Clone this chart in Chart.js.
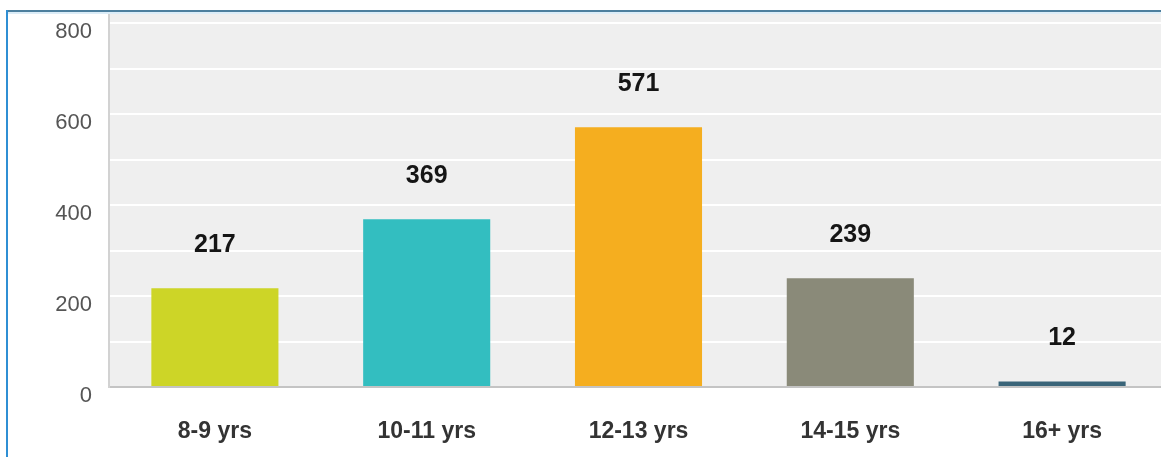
<!DOCTYPE html>
<html>
<head>
<meta charset="utf-8">
<script src="https://cdn.jsdelivr.net/npm/chart.js@4"></script>
<style>
  html, body { margin: 0; padding: 0; background: #fff; overflow: hidden; width: 1161px; height: 457px; }
  #wrap { position: absolute; left: 0; top: 0; width: 1172px; height: 457px; }
  .bl { position: absolute; left: 6px; top: 10px; width: 2px; height: 447px; background: #2f8fd4; }
  .bt { position: absolute; left: 6px; top: 10px; width: 1155px; height: 2px; background: #4d7f9e; }
  .bt2 { position: absolute; left: 8px; top: 12px; width: 1153px; height: 2px; background: #dcedf8; }
</style>
</head>
<body>
<div id="wrap"><canvas id="ageChart" width="1172" height="457"></canvas></div>
<div class="bt2"></div>
<div class="bt"></div>
<div class="bl"></div>
<script>
const ageGroups = ['8-9 yrs', '10-11 yrs', '12-13 yrs', '14-15 yrs', '16+ yrs'];
const counts = [217, 369, 571, 239, 12];
const barColors = ['#cdd527', '#33bec0', '#f5ae1f', '#8a8a79', '#3a6579'];
const gridValues = [0, 100, 200, 300, 400, 500, 600, 700, 800];
const yTickLabels = [0, 200, 400, 600, 800];

const plotBackground = {
    id: 'plotBackground',
    beforeDraw(c) {
        const a = c.chartArea;
        const ctx = c.ctx;
        ctx.save();
        ctx.fillStyle = '#efefef';
        ctx.fillRect(a.left, a.top, a.right - a.left, a.bottom - a.top);
        ctx.restore();
    }
};

const valueLabels = {
    id: 'valueLabels',
    afterDatasetsDraw(c) {
        const ctx = c.ctx;
        const meta = c.getDatasetMeta(0);
        ctx.save();
        ctx.font = 'bold 25px Arial, "Liberation Sans", sans-serif';
        ctx.fillStyle = '#151515';
        ctx.textAlign = 'center';
        ctx.textBaseline = 'middle';
        meta.data.forEach((bar, i) => {
            ctx.fillText(String(counts[i]), bar.x, bar.y - 43);
        });
        ctx.restore();
    }
};

new Chart(document.getElementById('ageChart').getContext('2d'), {
    type: 'bar',
    data: {
        labels: ageGroups,
        datasets: [{
            data: counts,
            backgroundColor: barColors,
            borderWidth: 0,
            barPercentage: 0.6,
            categoryPercentage: 1.0
        }]
    },
    options: {
        responsive: false,
        animation: false,
        layout: { padding: { top: 14, right: 4, left: 0, bottom: 0 } },
        plugins: {
            legend: { display: false },
            tooltip: { enabled: false }
        },
        scales: {
            x: {
                grid: { display: false, drawTicks: false },
                border: { color: '#c4c4c4', width: 2 },
                ticks: {
                    padding: 31,
                    color: '#333',
                    font: { family: 'Arial, "Liberation Sans", sans-serif', size: 23, weight: 'bold' }
                },
                afterFit(s) { s.height = 70; }
            },
            y: {
                min: 0,
                max: 820,
                afterBuildTicks(s) { s.ticks = gridValues.map(v => ({ value: v })); },
                grid: {
                    drawTicks: false,
                    lineWidth: 2,
                    color: ctx => (ctx.tick && ctx.tick.value === 0) ? 'rgba(0,0,0,0)' : '#ffffff'
                },
                border: { color: '#d2d2d2', width: 2 },
                ticks: {
                    padding: 17,
                    labelOffset: 9,
                    color: '#555',
                    font: { family: 'Arial, "Liberation Sans", sans-serif', size: 22 },
                    callback: v => yTickLabels.includes(v) ? String(v) : ''
                },
                afterFit(s) {
                    s.width = 109;
                    s.paddingTop = 0;
                    s.paddingBottom = 0;
                }
            }
        }
    },
    plugins: [plotBackground, valueLabels]
});
</script>
</body>
</html>
